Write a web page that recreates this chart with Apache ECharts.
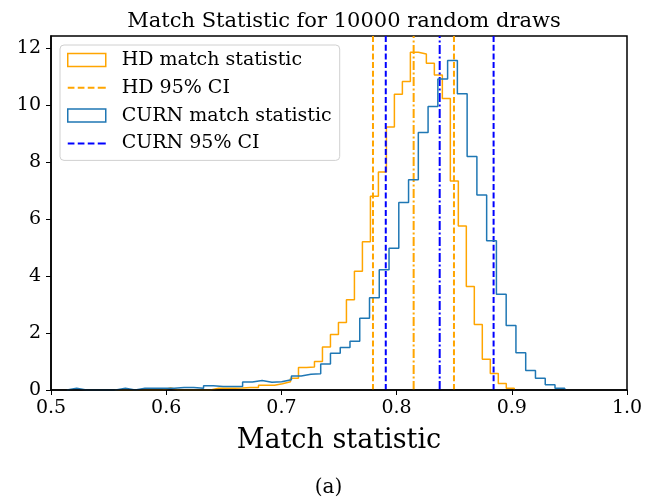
<!DOCTYPE html>
<html>
<head>
<meta charset="utf-8">
<script src="https://cdn.jsdelivr.net/npm/echarts@6/dist/echarts.min.js"></script>
<style>
  html, body { margin: 0; padding: 0; background: #fff; }
  #chart { width: 657px; height: 500px; }
</style>
</head>
<body>
<div id="chart"></div>
<script>
// Histogram of the HD match statistic (density), 50 equal bins
const hdStart = 0.55525;
const hdWidth = 0.006938;
const hdDensity = [
  0, 0, 0, 0, 0, 0, 0.07, 0, 0, 0,
  0, 0, 0.06, 0.06, 0.06, 0.07, 0.09, 0.09, 0.17, 0.17,
  0.22, 0.29, 0.41, 0.79, 0.81, 1.00, 1.51, 1.95, 2.37, 3.17,
  4.17, 5.20, 6.80, 7.65, 9.23, 10.38, 10.82, 11.85, 11.79, 11.46,
  11.05, 10.23, 7.33, 5.75, 3.63, 2.30, 1.08, 0.58, 0.23, 0.06
];

// Histogram of the CURN match statistic (density), 51 equal bins
const curnStart = 0.51379;
const curnWidth = 0.008474;
const curnDensity = [
  0.06, 0, 0, 0, 0, 0.06, 0, 0.06, 0.06, 0.06,
  0.06, 0.09, 0.09, 0.06, 0.15, 0.12, 0.12, 0.12, 0.28, 0.33,
  0.27, 0.29, 0.36, 0.49, 0.55, 0.57, 0.91, 1.29, 1.49, 1.71,
  2.52, 3.24, 4.22, 4.97, 6.58, 7.38, 9.03, 9.95, 10.91, 11.56,
  10.39, 8.19, 6.84, 5.24, 3.36, 2.26, 1.31, 0.68, 0.41, 0.18,
  0.06
];

// Credible intervals and medians
const hdCI = [0.7795, 0.8498];
const hdMedian = 0.8148;
const curnCI = [0.7906, 0.8842];
const curnMedian = 0.8374;

const yMax = 12.42;

const FONT = 'DejaVu Serif';
const ORANGE = '#FFA500';
const C0 = '#1f77b4';
const BLUE = '#0000FF';
const DASH = [6, 2.7];
const DASHDOT = [9, 2.5, 2, 2.5];
// Legend key for the dashed interval lines: four short strokes
const DASH_ICON = 'path://M0,0h6.7v2h-6.7z M10,0h6.7v2h-6.7z M20,0h6.7v2h-6.7z M30,0h8v2h-8z';

// Outline of a step histogram: up at the first edge, across each bin, down at the last edge
function stepOutline(start, width, vals) {
  const pts = [[start, 0]];
  vals.forEach(function (v, i) {
    const a = start + i * width;
    pts.push([a, v], [a + width, v]);
  });
  pts.push([start + vals.length * width, 0]);
  return pts;
}

function vline(name, x, color, dash) {
  return {
    name: name,
    type: 'line',
    data: [[x, 0], [x, yMax]],
    symbol: 'none',
    color: color,
    lineStyle: { color: color, width: 2, type: dash },
    silent: true,
    z: 3
  };
}

const chart = echarts.init(document.getElementById('chart'), null, { renderer: 'canvas' });

chart.setOption({
  animation: false,
  backgroundColor: '#ffffff',
  title: {
    text: 'Match Statistic for 10000 random draws',
    left: 339,
    top: 6,
    textAlign: 'center',
    textStyle: { fontFamily: FONT, fontSize: 21, fontWeight: 'normal', color: '#000' }
  },
  graphic: [{
    type: 'text',
    left: 'center',
    top: 478,
    style: { text: '(a)', font: '20px "DejaVu Serif"', fill: '#000' }
  }],
  grid: {
    left: 51, right: 30, top: 36, bottom: 110,
    show: true, borderColor: '#000', borderWidth: 1.5, backgroundColor: 'transparent'
  },
  legend: {
    orient: 'vertical',
    left: 60,
    top: 45,
    padding: [5, 8, 7, 7],
    itemGap: 7.8,
    itemWidth: 38,
    itemHeight: 13,
    backgroundColor: 'rgba(255,255,255,0.8)',
    borderColor: '#d0d0d0',
    borderWidth: 1,
    borderRadius: 4,
    textStyle: { fontFamily: FONT, fontSize: 19, color: '#000', lineHeight: 20, padding: [0, 0, 0, 11] },
    data: [
      { name: 'HD match statistic', icon: 'rect',
        itemStyle: { color: 'rgba(0,0,0,0)', borderColor: ORANGE, borderWidth: 1.5 } },
      { name: 'HD 95% CI', icon: DASH_ICON, itemStyle: { color: ORANGE } },
      { name: 'CURN match statistic', icon: 'rect',
        itemStyle: { color: 'rgba(0,0,0,0)', borderColor: C0, borderWidth: 1.5 } },
      { name: 'CURN 95% CI', icon: DASH_ICON, itemStyle: { color: BLUE } }
    ]
  },
  xAxis: {
    type: 'value',
    min: 0.5,
    max: 1.0,
    interval: 0.1,
    z: 10,
    name: 'Match statistic',
    nameLocation: 'middle',
    nameGap: 37,
    nameTextStyle: { fontFamily: FONT, fontSize: 27, color: '#000' },
    axisLine: { show: true, onZero: false, lineStyle: { color: '#000', width: 1.5 } },
    axisTick: { show: true, inside: false, length: 5, lineStyle: { color: '#000', width: 1 } },
    axisLabel: {
      fontFamily: FONT, fontSize: 19, color: '#000', margin: 9,
      formatter: function (v) { return v.toFixed(1); }
    },
    splitLine: { show: false }
  },
  yAxis: {
    type: 'value',
    min: 0,
    max: yMax,
    interval: 2,
    z: 10,
    axisLine: { show: true, lineStyle: { color: '#000', width: 1.5 } },
    axisTick: { show: true, inside: false, length: 5, lineStyle: { color: '#000', width: 1 } },
    axisLabel: { fontFamily: FONT, fontSize: 19, color: '#000', margin: 10, showMaxLabel: false },
    splitLine: { show: false }
  },
  series: [
    {
      name: 'HD match statistic',
      type: 'line',
      data: stepOutline(hdStart, hdWidth, hdDensity),
      symbol: 'none',
      color: ORANGE,
      lineStyle: { color: ORANGE, width: 1.5 },
      z: 2
    },
    vline('HD 95% CI', hdCI[0], ORANGE, DASH),
    vline('HD 95% CI', hdCI[1], ORANGE, DASH),
    vline('HD median', hdMedian, ORANGE, DASHDOT),
    {
      name: 'CURN match statistic',
      type: 'line',
      data: stepOutline(curnStart, curnWidth, curnDensity),
      symbol: 'none',
      color: C0,
      lineStyle: { color: C0, width: 1.5 },
      z: 4
    },
    vline('CURN 95% CI', curnCI[0], BLUE, DASH),
    vline('CURN 95% CI', curnCI[1], BLUE, DASH),
    vline('CURN median', curnMedian, BLUE, DASHDOT)
  ]
});
</script>
</body>
</html>
